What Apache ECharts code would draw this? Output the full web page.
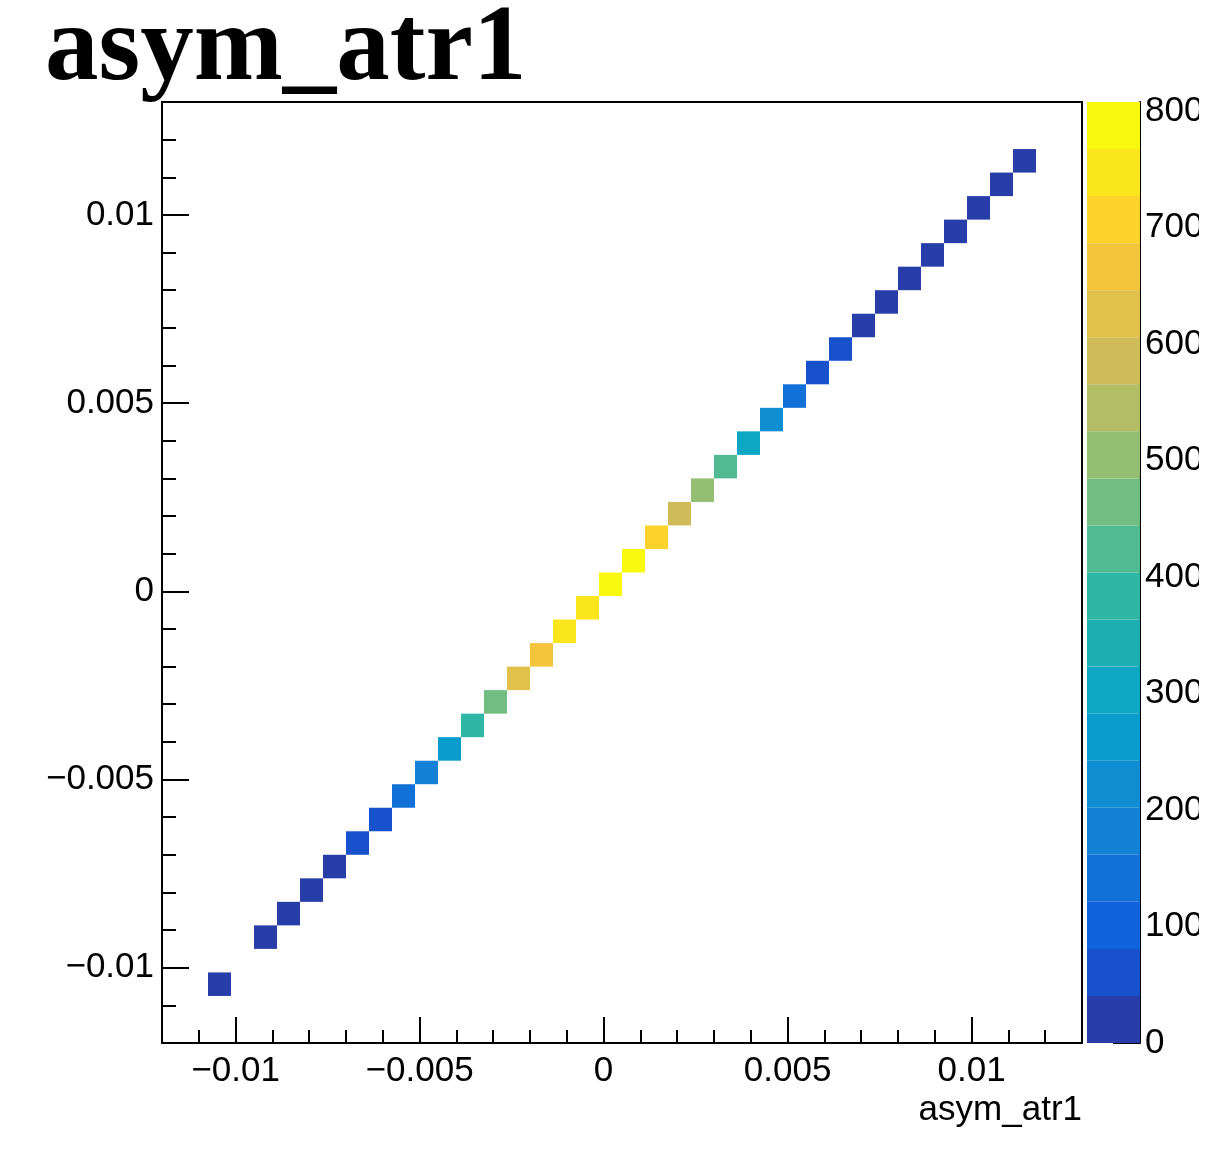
<!DOCTYPE html>
<html>
<head>
<meta charset="utf-8">
<script src="https://cdn.jsdelivr.net/npm/echarts@6/dist/echarts.min.js"></script>
<style>
  html, body { margin: 0; padding: 0; background: #fff; }
  #chart { width: 1217px; height: 1173px; }
</style>
</head>
<body>
<div id="chart"></div>
<script>
// ---- data ----
const titleText = 'asym_atr1';
const xAxisTitle = 'asym_atr1';
const axisRange = [-0.012, 0.013];
const binWidth = 0.000625;               // 40 bins over the range
// bin centres of the filled cells (x and y are on the diagonal)
const xCenters = [-0.0104375, -0.0091875, -0.0085625, -0.0079375, -0.0073125, -0.0066875, -0.0060625,
  -0.0054375, -0.0048125, -0.0041875, -0.0035625, -0.0029375, -0.0023125, -0.0016875, -0.0010625,
  -0.0004375, 0.0001875, 0.0008125, 0.0014375, 0.0020625, 0.0026875, 0.0033125, 0.0039375, 0.0045625,
  0.0051875, 0.0058125, 0.0064375, 0.0070625, 0.0076875, 0.0083125, 0.0089375, 0.0095625, 0.0101875,
  0.0108125, 0.0114375];
const yCenters = [-0.0104375, -0.0091875, -0.0085625, -0.0079375, -0.0073125, -0.0066875, -0.0060625,
  -0.0054375, -0.0048125, -0.0041875, -0.0035625, -0.0029375, -0.0023125, -0.0016875, -0.0010625,
  -0.0004375, 0.0001875, 0.0008125, 0.0014375, 0.0020625, 0.0026875, 0.0033125, 0.0039375, 0.0045625,
  0.0051875, 0.0058125, 0.0064375, 0.0070625, 0.0076875, 0.0083125, 0.0089375, 0.0095625, 0.0101875,
  0.0108125, 0.0114375];
const counts = [4, 8, 14, 22, 33, 58, 75, 135, 175, 255, 380, 470, 625, 670, 745, 755, 790, 808,
  710, 590, 510, 420, 300, 215, 140, 70, 52, 35, 26, 18, 12, 8, 5, 3, 2];

// tick values / labels
const majorTickValues = [-0.01, -0.005, 0, 0.005, 0.01];
const majorTickLabels = ['\u22120.01', '\u22120.005', '0', '0.005', '0.01'];
const minorTickValues = [-0.011, -0.009, -0.008, -0.007, -0.006, -0.004, -0.003, -0.002, -0.001,
  0.001, 0.002, 0.003, 0.004, 0.006, 0.007, 0.008, 0.009, 0.011, 0.012];
const zTickValues = [0, 100, 200, 300, 400, 500, 600, 700, 800];
const zTickLabels = ['0', '100', '200', '300', '400', '500', '600', '700', '800'];

// ROOT kBird palette, 20 contour levels
const palette = ['#273da7', '#1751cb', '#1063dc', '#1271d9', '#1480d6', '#0f8ed1', '#099ccc', '#0da7c3',
  '#1dafb4', '#2db7a4', '#51ba92', '#72bd81', '#94be72', '#b2bd66', '#d0bb59', '#e1c04b',
  '#f4c53b', '#fdd22b', '#fbe61d', '#f9f90f'];

// ---- build ----
const zMax = Math.max.apply(null, counts);
const nLevels = palette.length;
function levelColor(v) {
  let k = Math.floor(v / zMax * nLevels);
  if (k >= nLevels) k = nLevels - 1;
  if (k < 0) k = 0;
  return palette[k];
}
const cellData = xCenters.map((x, i) => [x, yCenters[i], counts[i]]);
const bandData = palette.map((c, k) => [k * zMax / nLevels, (k + 1) * zMax / nLevels]);

const FONT = 'Liberation Sans';
const lineBlack = { color: '#000', width: 2 };
function majorLabel(v) {
  for (let i = 0; i < majorTickValues.length; i++) {
    if (Math.abs(majorTickValues[i] - v) < 1e-9) return majorTickLabels[i];
  }
  return '';
}
function zLabel(v) {
  for (let i = 0; i < zTickValues.length; i++) {
    if (Math.abs(zTickValues[i] - v) < 1e-9) return zTickLabels[i];
  }
  return '';
}

const chart = echarts.init(document.getElementById('chart'), null, { renderer: 'canvas' });
chart.setOption({
  animation: false,
  backgroundColor: '#fff',
  title: {
    text: titleText, left: 45, top: -2, padding: 0,
    textStyle: { fontFamily: 'Liberation Serif', fontWeight: 'bold', fontSize: 107, color: '#000' }
  },
  grid: [
    { left: 162, top: 102, right: 135, bottom: 130, show: true, borderColor: '#000', borderWidth: 2, containLabel: false },
    { left: 1087, top: 102, width: 53, bottom: 130, show: false, containLabel: false }
  ],
  xAxis: [
    {
      type: 'value', gridIndex: 0, min: axisRange[0], max: axisRange[1], position: 'bottom',
      axisLine: { show: true, onZero: false, lineStyle: lineBlack },
      axisTick: { show: true, inside: true, length: 26, lineStyle: lineBlack, customValues: majorTickValues },
      axisLabel: { show: true, customValues: majorTickValues, formatter: majorLabel, margin: 11,
        fontFamily: FONT, fontSize: 35, color: '#000' },
      splitLine: { show: false },
      name: xAxisTitle, nameLocation: 'end', nameGap: 0,
      nameTextStyle: { fontFamily: FONT, fontSize: 35, color: '#000', align: 'right', verticalAlign: 'top',
        padding: [50, 0, 0, 0] }
    },
    {
      type: 'value', gridIndex: 0, min: axisRange[0], max: axisRange[1], position: 'bottom',
      axisLine: { show: false, onZero: false },
      axisTick: { show: true, inside: true, length: 13, lineStyle: lineBlack, customValues: minorTickValues },
      axisLabel: { show: false },
      splitLine: { show: false }
    },
    { type: 'value', gridIndex: 1, min: 0, max: 1, show: false }
  ],
  yAxis: [
    {
      type: 'value', gridIndex: 0, min: axisRange[0], max: axisRange[1], position: 'left',
      axisLine: { show: true, onZero: false, lineStyle: lineBlack },
      axisTick: { show: true, inside: true, length: 27, lineStyle: lineBlack, customValues: majorTickValues },
      axisLabel: { show: true, customValues: majorTickValues, formatter: majorLabel, margin: 8,
        fontFamily: FONT, fontSize: 35, color: '#000' },
      splitLine: { show: false }
    },
    {
      type: 'value', gridIndex: 0, min: axisRange[0], max: axisRange[1], position: 'left',
      axisLine: { show: false, onZero: false },
      axisTick: { show: true, inside: true, length: 14, lineStyle: lineBlack, customValues: minorTickValues },
      axisLabel: { show: false },
      splitLine: { show: false }
    },
    {
      type: 'value', gridIndex: 1, min: 0, max: zMax, position: 'right',
      axisLine: { show: true, onZero: false, lineStyle: lineBlack },
      axisTick: { show: true, inside: true, length: 27, lineStyle: lineBlack, customValues: zTickValues },
      axisLabel: { show: true, customValues: zTickValues, formatter: zLabel, margin: 5,
        fontFamily: FONT, fontSize: 35, color: '#000' },
      splitLine: { show: false }
    }
  ],
  series: [
    {
      type: 'custom', coordinateSystem: 'cartesian2d', xAxisIndex: 0, yAxisIndex: 0,
      data: cellData, clip: true,
      renderItem: function (params, api) {
        const x = api.value(0), y = api.value(1), v = api.value(2);
        const p0 = api.coord([x - binWidth / 2, y + binWidth / 2]);
        const p1 = api.coord([x + binWidth / 2, y - binWidth / 2]);
        return {
          type: 'rect',
          shape: { x: p0[0], y: p0[1], width: p1[0] - p0[0], height: p1[1] - p0[1] },
          style: { fill: levelColor(v) }
        };
      }
    },
    {
      type: 'custom', coordinateSystem: 'cartesian2d', xAxisIndex: 2, yAxisIndex: 2,
      data: bandData,
      renderItem: function (params, api) {
        const lo = api.value(0), hi = api.value(1);
        const p0 = api.coord([0, hi]);
        const p1 = api.coord([1, lo]);
        return {
          type: 'rect',
          shape: { x: p0[0], y: p0[1], width: p1[0] - p0[0], height: p1[1] - p0[1] },
          style: { fill: palette[params.dataIndex] }
        };
      }
    }
  ],
  graphic: [
    { type: 'rect', z: 100, silent: true, shape: { x: 1199, y: 0, width: 18, height: 1173 }, style: { fill: '#fff' } }
  ]
});
</script>
</body>
</html>
